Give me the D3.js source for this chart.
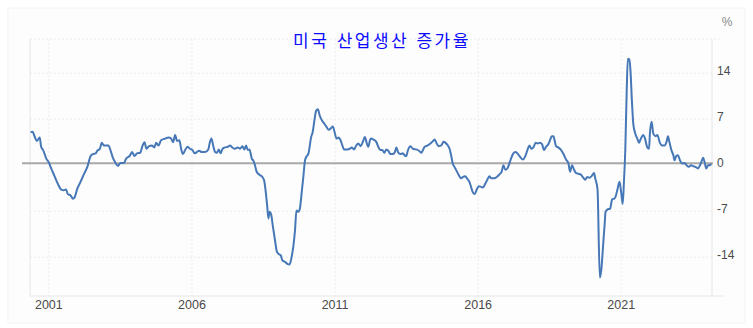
<!DOCTYPE html>
<html lang="ko">
<head>
  <meta charset="UTF-8">
  <title>미국 산업생산 증가율</title>
  <script src="https://d3js.org/d3.v7.min.js"></script>
  <style>
    body { margin: 0; background: #fff; }
    svg { display: block; }
    .tick-label { font-family: "Liberation Sans", Arial, sans-serif; font-size: 12px; fill: #4a4a4a; }
  </style>
</head>
<body>
  <svg width="753" height="328"></svg>

  <script>
    // decimal year of each reading and the growth rate (%)
    const years = [
      2000.36, 2000.43, 2000.50, 2000.58, 2000.68, 2000.73, 2000.80, 2000.91, 2000.99, 2001.08,
      2001.20, 2001.31, 2001.43, 2001.52, 2001.60, 2001.66, 2001.76, 2001.84, 2001.90, 2001.99,
      2002.11, 2002.22, 2002.34, 2002.46, 2002.54, 2002.63, 2002.71, 2002.77, 2002.85, 2002.92,
      2003.00, 2003.08, 2003.15, 2003.23, 2003.31, 2003.41, 2003.50, 2003.62, 2003.70, 2003.82,
      2003.91, 2003.99, 2004.08, 2004.19, 2004.26, 2004.34, 2004.41, 2004.50, 2004.60, 2004.68,
      2004.75, 2004.83, 2004.92, 2005.06, 2005.18, 2005.27, 2005.34, 2005.41, 2005.48, 2005.56,
      2005.62, 2005.68, 2005.76, 2005.84, 2005.93, 2006.02, 2006.09, 2006.17, 2006.25, 2006.34,
      2006.46, 2006.57, 2006.62, 2006.68, 2006.74, 2006.81, 2006.87, 2006.94, 2007.00, 2007.07,
      2007.15, 2007.25, 2007.33, 2007.41, 2007.50, 2007.60, 2007.68, 2007.76, 2007.83, 2007.89,
      2007.95, 2008.01, 2008.09, 2008.15, 2008.20, 2008.26, 2008.37, 2008.46, 2008.52, 2008.57,
      2008.63, 2008.67, 2008.71, 2008.76, 2008.83, 2008.90, 2008.97, 2009.04, 2009.10, 2009.16,
      2009.25, 2009.33, 2009.41, 2009.48, 2009.54, 2009.60, 2009.65, 2009.72, 2009.77, 2009.83,
      2009.89, 2009.95, 2010.00, 2010.07, 2010.11, 2010.16, 2010.22, 2010.27, 2010.34, 2010.40,
      2010.46, 2010.53, 2010.61, 2010.69, 2010.78, 2010.85, 2010.92, 2010.98, 2011.05, 2011.13,
      2011.19, 2011.27, 2011.31, 2011.43, 2011.51, 2011.58, 2011.66, 2011.74, 2011.81, 2011.89,
      2011.97, 2012.04, 2012.11, 2012.16, 2012.22, 2012.26, 2012.34, 2012.44, 2012.51, 2012.58,
      2012.65, 2012.72, 2012.79, 2012.86, 2012.93, 2013.02, 2013.09, 2013.14, 2013.21, 2013.28,
      2013.37, 2013.43, 2013.49, 2013.54, 2013.63, 2013.72, 2013.83, 2013.93, 2014.01, 2014.07,
      2014.13, 2014.24, 2014.36, 2014.45, 2014.48, 2014.55, 2014.62, 2014.71, 2014.79, 2014.86,
      2014.94, 2015.00, 2015.06, 2015.11, 2015.17, 2015.25, 2015.32, 2015.41, 2015.46, 2015.55,
      2015.61, 2015.69, 2015.75, 2015.81, 2015.88, 2015.95, 2016.02, 2016.10, 2016.16, 2016.25,
      2016.32, 2016.39, 2016.46, 2016.56, 2016.65, 2016.74, 2016.82, 2016.88, 2016.95, 2017.02,
      2017.09, 2017.16, 2017.23, 2017.30, 2017.37, 2017.46, 2017.56, 2017.64, 2017.72, 2017.79,
      2017.86, 2017.93, 2018.01, 2018.08, 2018.16, 2018.23, 2018.30, 2018.37, 2018.45, 2018.51,
      2018.57, 2018.63, 2018.67, 2018.72, 2018.80, 2018.88, 2018.98, 2019.07, 2019.15, 2019.21,
      2019.28, 2019.35, 2019.42, 2019.50, 2019.58, 2019.67, 2019.74, 2019.81, 2019.88, 2019.96,
      2020.05, 2020.09, 2020.17, 2020.25, 2020.30, 2020.37, 2020.42, 2020.45, 2020.51, 2020.61,
      2020.68, 2020.75, 2020.80, 2020.86, 2020.94, 2021.00, 2021.05, 2021.09, 2021.14, 2021.19,
      2021.23, 2021.28, 2021.32, 2021.37, 2021.42, 2021.49, 2021.56, 2021.62, 2021.67, 2021.77,
      2021.83, 2021.91, 2021.97, 2022.00, 2022.06, 2022.12, 2022.20, 2022.26, 2022.35, 2022.43,
      2022.51, 2022.58, 2022.63, 2022.68, 2022.75, 2022.82, 2022.86, 2022.92, 2022.98, 2023.05,
      2023.13, 2023.21, 2023.28, 2023.36, 2023.44, 2023.51, 2023.59, 2023.68, 2023.75, 2023.82,
      2023.86, 2023.91, 2023.97, 2024.03, 2024.10, 2024.14
    ];
    const rates = [
      4.7, 4.8, 4.1, 3.4, 3.9, 2.5, 2.0, 0.7, 0.2, -0.8,
      -2.0, -3.1, -4.0, -4.1, -4.0, -4.7, -4.9, -5.4, -5.2, -3.9,
      -2.8, -1.7, -0.6, 1.1, 1.4, 1.5, 2.0, 2.1, 3.1, 2.7,
      2.7, 2.7, 2.0, 0.9, 0.2, -0.4, 0.05, 0.05, 0.7, 1.1,
      1.7, 1.1, 1.5, 1.6, 2.5, 3.2, 2.2, 2.6, 2.7, 2.4,
      3.1, 2.7, 3.5, 3.75, 3.9, 3.75, 3.2, 4.3, 3.4, 3.5,
      2.2, 1.4, 2.0, 2.5, 2.2, 2.0, 1.5, 1.7, 1.9, 1.7,
      1.7, 2.1, 3.1, 3.75, 2.7, 1.7, 1.6, 2.1, 1.5, 2.2,
      2.4, 2.5, 2.7, 2.4, 2.2, 2.4, 2.2, 2.6, 2.1, 2.7,
      2.0, 2.1, 0.7, 0.35, -0.3, -1.3, -1.8, -2.1, -2.6, -4.1,
      -6.6, -8.4, -7.4, -7.7, -9.7, -11.7, -13.5, -13.85, -14.0, -14.8,
      -15.0, -15.3, -15.4, -14.3, -12.7, -10.2, -7.2, -7.4, -6.9, -4.6,
      -2.1, 0.45, 1.0, 1.5, 2.5, 3.9, 4.8, 6.3, 8.0, 8.2,
      7.3, 6.6, 6.1, 5.6, 5.1, 5.3, 5.6, 4.8, 3.75, 3.9,
      3.5, 2.5, 2.1, 2.1, 2.2, 2.4, 2.1, 2.7, 3.0, 2.6,
      3.25, 4.0, 3.0, 2.5, 3.5, 3.75, 3.6, 3.25, 2.5, 2.0,
      2.0, 1.6, 2.1, 1.9, 1.4, 1.4, 1.7, 2.4, 1.6, 1.4,
      1.5, 1.2, 1.1, 1.9, 2.6, 2.2, 2.1, 1.9, 1.6, 2.0,
      2.5, 2.7, 3.1, 3.5, 3.6, 3.0, 2.6, 2.7, 3.25, 3.1,
      2.7, 2.2, 1.1, -0.05, -0.55, -1.2, -1.8, -2.3, -2.1, -2.0,
      -2.3, -2.8, -3.6, -4.4, -4.7, -4.0, -3.5, -3.6, -3.7, -3.1,
      -2.5, -2.0, -2.3, -2.3, -2.1, -1.7, -1.3, -0.3, -1.0, -0.8,
      -0.05, 0.85, 1.5, 1.7, 1.5, 1.0, 0.55, 1.0, 2.0, 2.7,
      2.2, 2.4, 3.1, 3.0, 3.1, 2.9, 2.0, 2.5, 2.9, 3.5,
      4.1, 4.1, 3.5, 2.6, 2.4, 2.1, 1.4, 0.55, 0.05, -1.3,
      -0.3, -1.0, -1.5, -1.6, -1.7, -2.2, -2.5, -2.1, -2.2, -2.0,
      -1.5, -2.3, -4.0, -17.4, -16.3, -12.2, -9.2, -7.4, -7.05, -6.9,
      -5.5, -5.4, -5.1, -4.1, -2.8, -4.6, -6.2, -3.1, 2.0, 11.1,
      15.9, 15.8, 14.2, 9.6, 6.0, 4.5, 3.75, 3.1, 3.6, 4.3,
      3.75, 2.4, 2.2, 4.5, 6.3, 4.5, 4.1, 4.3, 3.1, 2.7,
      2.7, 3.25, 4.1, 3.25, 2.0, 1.2, 0.45, 1.1, 1.2, 0.45,
      -0.05, 0.05, -0.3, -0.55, -0.3, -0.45, -0.55, -0.8, -0.3, 0.45,
      0.85, 0.2, -0.8, -0.3, -0.3, -0.05
    ];
    const yearTicks = [2001, 2006, 2011, 2016, 2021];
    const rateTicks = [14, 7, 0, -7, -14];
    const gridRates = [14, 7, -7, -14];
    const title = "미국 산업생산 증가율";

    const data = years.map((y, i) => ({ year: y, rate: rates[i] }));

    const svg = d3.select("svg");
    const plot = { left: 30, right: 712, top: 39, bottom: 296 };

    const x = d3.scaleLinear().domain([2000.34, 2024.17]).range([plot.left, plot.right]);
    const y = d3.scaleLinear().domain([-20.2, 18.9]).range([plot.bottom, plot.top]);

    // panel
    svg.append("rect")
      .attr("x", 8).attr("y", 8).attr("width", 737).attr("height", 315)
      .attr("fill", "#fdfdfd").attr("stroke", "#f3f3f3");

    // grid (labels sit a little above their dotted lines, as in the original)
    const grid = svg.append("g").attr("stroke", "#ececec").attr("stroke-dasharray", "2,2");
    grid.selectAll(".v").data(yearTicks).join("line")
      .attr("x1", d => x(d)).attr("x2", d => x(d))
      .attr("y1", plot.top).attr("y2", plot.bottom);
    grid.selectAll(".h").data(gridRates).join("line")
      .attr("x1", plot.left).attr("x2", plot.right)
      .attr("y1", d => y(d) + 2).attr("y2", d => y(d) + 2);
    grid.append("line")
      .attr("x1", plot.left).attr("x2", plot.right + 8)
      .attr("y1", plot.top).attr("y2", plot.top);

    // frame
    svg.append("line").attr("x1", plot.left).attr("x2", plot.left)
      .attr("y1", plot.top).attr("y2", plot.bottom).attr("stroke", "#e6e6e6");
    svg.append("line").attr("x1", plot.right).attr("x2", plot.right)
      .attr("y1", plot.top).attr("y2", plot.bottom).attr("stroke", "#e6e6e6");
    svg.append("line").attr("x1", plot.left).attr("x2", plot.right + 12)
      .attr("y1", plot.bottom).attr("y2", plot.bottom).attr("stroke", "#e6e6e6");

    // zero line
    svg.append("line")
      .attr("x1", 22).attr("x2", plot.right + 1)
      .attr("y1", y(0)).attr("y2", y(0))
      .attr("stroke", "#a8a8a8").attr("stroke-width", 2);

    // series
    const line = d3.line()
      .x(d => x(d.year))
      .y(d => y(d.rate))
      .curve(d3.curveMonotoneX);

    svg.append("path")
      .datum(data)
      .attr("fill", "none")
      .attr("stroke", "#4677b6")
      .attr("stroke-width", 2)
      .attr("stroke-linejoin", "round")
      .attr("d", line);

    // right axis labels
    svg.append("g").selectAll("text").data(rateTicks).join("text")
      .attr("class", "tick-label")
      .attr("x", plot.right + 5)
      .attr("y", d => y(d))
      .attr("dy", "0.35em")
      .text(d => String(d));

    svg.append("text")
      .attr("class", "tick-label")
      .attr("x", 727).attr("y", 22)
      .attr("dy", "0.35em")
      .attr("text-anchor", "middle")
      .style("fill", "#888")
      .text("%");

    // bottom axis labels
    svg.append("g").selectAll("text").data(yearTicks).join("text")
      .attr("class", "tick-label")
      .attr("x", d => x(d))
      .attr("y", 305)
      .attr("dy", "0.35em")
      .attr("text-anchor", "middle")
      .style("font-size", "12.5px")
      .text(d => d3.format("d")(d));

    // title
    svg.append("text")
      .attr("x", 382).attr("y", 41)
      .attr("dy", "0.35em")
      .attr("text-anchor", "middle")
      .attr("fill", "#0a0aff")
      .style("font-family", "'Noto Sans CJK KR', sans-serif")
      .style("font-size", "17px")
      .style("letter-spacing", "2.5px")
      .text(title);
  </script>
</body>
</html>
